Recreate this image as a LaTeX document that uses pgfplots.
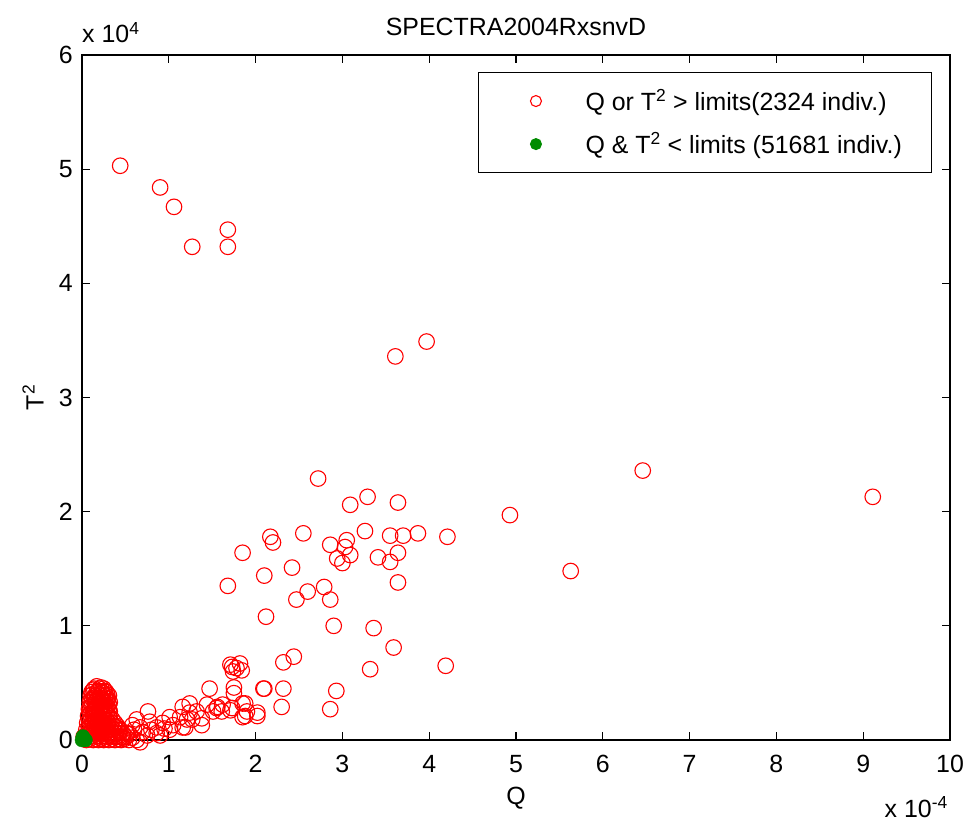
\documentclass[border=0pt]{standalone}
\usepackage{fontspec}
\setmainfont{Liberation Sans}
\usepackage{pgfplots}
\pgfplotsset{compat=1.18}
\definecolor{mred}{RGB}{255,0,0}
\definecolor{mgreen}{RGB}{0,140,0}
\begin{document}
\begin{tikzpicture}
\useasboundingbox (-82bp,-83bp) rectangle (886bp,740bp);
\begin{axis}[
  scale only axis, width=868bp, height=685bp,
  xmin=0, xmax=10, ymin=0, ymax=6,
  xtick={0,1,...,10}, ytick={0,1,...,6},
  tick align=inside, major tick length=8bp,
  axis line style={line width=1.2bp, black},
  every tick/.style={line width=1.1bp, black},
  font=\fontsize{25}{30}\selectfont,
  /pgf/number format/assume math mode=true,
  xticklabel style={anchor=north, inner sep=0pt, yshift=-15bp},
  yticklabel style={anchor=east, inner sep=0pt, xshift=-9bp},
  title={SPECTRA2004RxsnvD},
  every axis title/.style={at={(0.5,1)}, anchor=base, yshift=19bp, inner sep=0pt},
  xlabel={Q},
  every axis x label/.style={at={(0.5,0)}, anchor=base, yshift=-64bp, inner sep=0pt},
  ylabel={T\textsuperscript{2}},
  every axis y label/.style={at={(0,0.5)}, xshift=-49bp, rotate=90, anchor=center, inner sep=0pt},
  clip=false,
  legend cell align=left,
  legend style={at={(1,1)}, anchor=north east, xshift=-18bp, yshift=-17bp,
    draw=black, line width=1bp, inner xsep=0pt, inner ysep=7bp,
    row sep=0pt, column sep=0pt, nodes={inner sep=0pt},
    font=\fontsize{25}{30}\selectfont},
  legend image code/.code={%
    \path (-57bp,-21bp) (49bp,21bp);
    \draw[#1, mark size=5.5bp] plot coordinates {(0bp,0bp)};},
]
\addplot[only marks, mark=o, mark size=7.8bp, draw=mred, line width=1.1bp] coordinates {
(0.44,5.03) (0.90,4.84) (1.06,4.67) (1.27,4.32) (1.68,4.47) (1.68,4.32)
(3.61,3.36) (3.97,3.49) (6.46,2.36) (9.11,2.13) (4.93,1.97) (5.63,1.48)
(4.19,0.65) (4.21,1.78) (3.64,2.08) (3.29,2.13) (3.09,2.06) (2.72,2.29)
(3.26,1.83) (3.05,1.75) (3.03,1.69) (3.09,1.62) (2.94,1.59) (3.00,1.55)
(2.86,1.71) (3.55,1.79) (3.70,1.79) (3.87,1.81) (3.41,1.60) (3.55,1.56)
(3.64,1.64) (3.64,1.38) (2.55,1.81) (2.17,1.78) (2.20,1.73) (1.85,1.64)
(2.10,1.44) (2.42,1.51) (1.68,1.35) (2.12,1.08) (2.47,1.23) (2.60,1.30)
(2.79,1.34) (2.86,1.23) (2.90,1.00) (3.36,0.98) (3.59,0.81) (3.32,0.62)
(2.93,0.43) (2.86,0.27) (2.32,0.68) (2.44,0.73) (2.10,0.45) (2.32,0.45)
(2.30,0.29) (1.73,0.64) (1.82,0.67) (1.78,0.63) (1.75,0.46) (1.75,0.41)
(1.47,0.45) (1.88,0.32) (2.02,0.21) (1.88,0.21) (1.55,0.28) (1.62,0.31)
(1.51,0.25) (1.73,0.28) (1.24,0.24) (1.21,0.18) (1.38,0.13) (1.16,0.11)
(1.71,0.66) (1.74,0.60) (1.84,0.61) (2.09,0.45) (1.44,0.31) (1.56,0.29)
(1.61,0.25) (1.71,0.26) (1.85,0.32) (1.90,0.25) (1.85,0.20) (2.02,0.24)
(1.16,0.29) (1.24,0.32) (1.32,0.25) (1.13,0.20) (1.27,0.18) (1.38,0.19)
(1.01,0.20) (0.93,0.15) (1.05,0.13) (1.19,0.11) (1.01,0.09)
(0.76,0.25) (0.63,0.18) (0.78,0.16) (0.86,0.11) (0.67,0.11) (0.58,0.13)
(0.52,0.06) (0.75,0.04) (0.86,0.06) (0.40,0.11) (0.36,0.04) (0.47,0.02)
(0.63,0.00) (0.29,0.03) (0.67,-0.02)
(0.14,0.45) (0.20,0.45) (0.25,0.45)
(0.11,0.42) (0.17,0.42) (0.23,0.42) (0.28,0.42)
(0.10,0.39) (0.15,0.39) (0.21,0.39) (0.27,0.39) (0.31,0.39)
(0.12,0.36) (0.18,0.36) (0.24,0.36) (0.30,0.36)
(0.09,0.33) (0.15,0.33) (0.21,0.33) (0.27,0.33) (0.32,0.33)
(0.11,0.30) (0.17,0.30) (0.23,0.30) (0.29,0.30)
(0.08,0.27) (0.14,0.27) (0.20,0.27) (0.26,0.27) (0.31,0.27)
(0.11,0.24) (0.17,0.24) (0.23,0.24) (0.29,0.24)
(0.07,0.21) (0.13,0.21) (0.19,0.21) (0.25,0.21) (0.31,0.21)
(0.10,0.18) (0.16,0.18) (0.22,0.18) (0.28,0.18) (0.35,0.18)
(0.06,0.15) (0.12,0.15) (0.18,0.15) (0.24,0.15) (0.30,0.15) (0.38,0.15)
(0.09,0.12) (0.15,0.12) (0.21,0.12) (0.27,0.12) (0.33,0.12) (0.41,0.12)
(0.05,0.09) (0.11,0.09) (0.17,0.09) (0.23,0.09) (0.29,0.09) (0.36,0.09) (0.44,0.09)
(0.08,0.06) (0.14,0.06) (0.20,0.06) (0.26,0.06) (0.32,0.06) (0.39,0.06) (0.47,0.06)
(0.02,0.03) (0.10,0.03) (0.16,0.03) (0.22,0.03) (0.28,0.03) (0.35,0.03) (0.42,0.03) (0.50,0.03)
(0.05,0.00) (0.13,0.00) (0.19,0.00) (0.25,0.00) (0.31,0.00) (0.38,0.00) (0.45,0.00) (0.54,0.00)
(0.17,0.47) (0.22,0.46) (0.13,0.44) (0.19,0.43) (0.26,0.43) (0.12,0.40) (0.18,0.40) (0.24,0.41)
(0.29,0.40) (0.14,0.37) (0.21,0.37) (0.27,0.37) (0.10,0.35) (0.16,0.34) (0.23,0.35) (0.29,0.34)
(0.12,0.31) (0.19,0.32) (0.25,0.31) (0.31,0.31) (0.09,0.29) (0.15,0.28) (0.22,0.29) (0.28,0.28)
(0.13,0.25) (0.20,0.25) (0.26,0.26) (0.32,0.25) (0.09,0.23) (0.15,0.22) (0.22,0.22) (0.28,0.22)
(0.11,0.19) (0.19,0.19) (0.25,0.18) (0.32,0.19) (0.08,0.17) (0.15,0.16) (0.21,0.16) (0.27,0.15)
(0.34,0.15) (0.11,0.13) (0.18,0.13) (0.24,0.13) (0.30,0.12) (0.37,0.12) (0.08,0.10) (0.14,0.10)
(0.20,0.10) (0.26,0.10) (0.33,0.09) (0.40,0.09) (0.11,0.07) (0.17,0.07) (0.23,0.07) (0.29,0.07)
(0.36,0.06) (0.43,0.06) (0.51,0.06) (0.06,0.04) (0.13,0.04) (0.19,0.04) (0.25,0.04) (0.32,0.04)
(0.39,0.03) (0.46,0.03) (0.09,0.01) (0.16,0.01) (0.22,0.01) (0.28,0.01) (0.35,0.01) (0.42,0.01)
(0.49,0.01) (0.58,0.02) (0.55,0.05) (0.60,0.09) (0.70,0.07) (0.80,0.09) (0.90,0.04) (0.95,0.10)
};
\addlegendentry{\makebox[346bp][l]{Q or T\textsuperscript{2} > limits(2324 indiv.)}}
\addplot[only marks, mark=*, mark size=7bp, draw=mgreen, fill=mgreen] coordinates {
(0.00,0.00) (0.02,0.01) (0.04,0.00) (0.01,0.03)
};
\addlegendentry{\makebox[346bp][l]{Q \& T\textsuperscript{2} < limits (51681 indiv.)}}
\node[anchor=base west, yshift=12bp, inner sep=0pt] at (rel axis cs:0,1) {x 10\textsuperscript{4}};
\node[anchor=base east, yshift=-77bp, xshift=-2bp, inner sep=0pt] at (rel axis cs:1,0) {x 10\textsuperscript{-4}};
\end{axis}
\end{tikzpicture}
\end{document}
